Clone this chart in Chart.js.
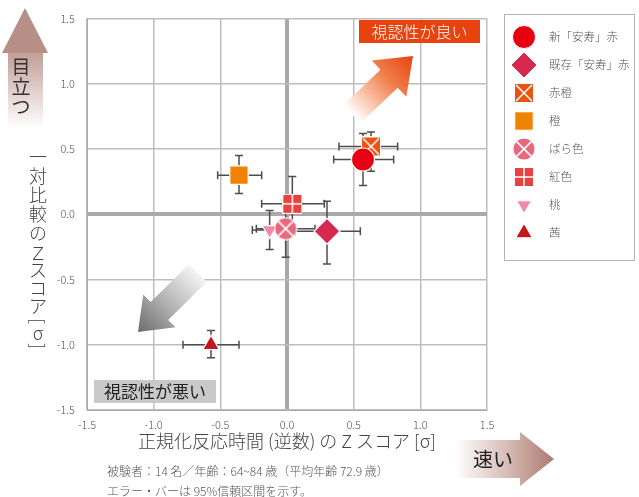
<!DOCTYPE html>
<html><head><meta charset="utf-8">
<script src="https://cdn.jsdelivr.net/npm/chart.js@4.4.0/dist/chart.umd.min.js"></script>
<style>html,body{margin:0;padding:0;background:#fff;}#wrap{width:639px;height:497px;position:relative;}</style>
</head><body><div id="wrap"><canvas id="c" width="639" height="497"></canvas></div>
<script>
const series = ['新「安寿」赤','既存「安寿」赤','赤橙','橙','ばら色','紅色','桃','茜'];
const xValues = [0.57, 0.30, 0.63, -0.36, -0.01, 0.04, -0.13, -0.57];
const yValues = [0.42, -0.13, 0.52, 0.30, -0.11, 0.08, -0.12, -1.00];
const xLow  = [0.35, 0.06, 0.39, -0.52, -0.23, -0.19, -0.26, -0.78];
const xHigh = [0.80, 0.55, 0.83, -0.19, 0.21, 0.28, 0.00, -0.36];
const yLow  = [0.22, -0.38, 0.33, 0.16, -0.33, -0.13, -0.27, -1.10];
const yHigh = [0.62, 0.10, 0.63, 0.45, 0.11, 0.29, 0.03, -0.89];
const axisTicks = [-1.5, -1.0, -0.5, 0.0, 0.5, 1.0, 1.5];
const colors = ['#e60012','#d7294f','#e95413','#f08300','#e9687e','#e8413f','#f08aa7','#c8161d'];

const FONT = '"Noto Sans CJK JP", "Noto Sans", sans-serif';
const LIGHT = '300 ';

function mk(size, draw){const c=document.createElement('canvas');c.width=size;c.height=size;draw(c.getContext('2d'),size);return c;}
const crossSquare = mk(20,(g,s)=>{g.fillStyle='#fff';g.fillRect(0,0,s,s);g.fillStyle=colors[2];g.fillRect(1,1,s-2,s-2);g.strokeStyle='#fff';g.lineWidth=1.5;g.beginPath();g.moveTo(2,2);g.lineTo(s-2,s-2);g.moveTo(s-2,2);g.lineTo(2,s-2);g.stroke();});
const crossCircle = mk(24,(g,s)=>{const c=s/2;g.fillStyle='#fff';g.beginPath();g.arc(c,c,11.5,0,Math.PI*2);g.fill();g.fillStyle=colors[4];g.beginPath();g.arc(c,c,10.5,0,Math.PI*2);g.fill();g.strokeStyle='#fff';g.lineWidth=1.6;const d=7.4;g.beginPath();g.moveTo(c-d,c-d);g.lineTo(c+d,c+d);g.moveTo(c+d,c-d);g.lineTo(c-d,c+d);g.stroke();});
const quadSquare = mk(20,(g,s)=>{g.fillStyle='#fff';g.fillRect(0,0,s,s);g.fillStyle=colors[5];g.fillRect(1,1,s-2,s-2);g.strokeStyle='#fff';g.lineWidth=1.5;g.beginPath();g.moveTo(s/2,1);g.lineTo(s/2,s-1);g.moveTo(1,s/2);g.lineTo(s-1,s/2);g.stroke();});

const styles = [
 {pointStyle:'circle', radius:11.5, rotation:0},
 {pointStyle:'rectRot', radius:13, rotation:0},
 {pointStyle:crossSquare, radius:10, rotation:0},
 {pointStyle:'rect', radius:13, rotation:0},
 {pointStyle:crossCircle, radius:12, rotation:0},
 {pointStyle:quadSquare, radius:10, rotation:0},
 {pointStyle:'triangle', radius:8.5, rotation:180},
 {pointStyle:'triangle', radius:9.5, rotation:0}
];

const datasets = series.map((name,i)=>({
  label:name,
  data:[{x:xValues[i], y:yValues[i]}],
  pointStyle:styles[i].pointStyle,
  pointRadius:styles[i].radius,
  pointRotation:styles[i].rotation,
  backgroundColor:colors[i],
  borderColor:'#ffffff',
  borderWidth:1.2
}));

function arrowPoly(ctx,x0,y0,x1,y1,sw,hw,hl){
  const dx=x1-x0, dy=y1-y0, L=Math.hypot(dx,dy), ux=dx/L, uy=dy/L, px=-uy, py=ux;
  const bx=x1-ux*hl, by=y1-uy*hl;
  ctx.beginPath();
  ctx.moveTo(x0+px*sw/2, y0+py*sw/2);
  ctx.lineTo(bx+px*sw/2, by+py*sw/2);
  ctx.lineTo(bx+px*hw/2, by+py*hw/2);
  ctx.lineTo(x1,y1);
  ctx.lineTo(bx-px*hw/2, by-py*hw/2);
  ctx.lineTo(bx-px*sw/2, by-py*sw/2);
  ctx.lineTo(x0-px*sw/2, y0-py*sw/2);
  ctx.closePath();
}

const deco = {
  id:'deco',
  beforeDatasetsDraw(chart){
    const ctx=chart.ctx; ctx.save();
    let g=ctx.createLinearGradient(352,114,413,56);
    g.addColorStop(0,'rgba(255,255,255,1)');g.addColorStop(0.2,'#fbd2bd');g.addColorStop(0.6,'#ef7e4a');g.addColorStop(1,'#e8420f');
    ctx.fillStyle=g; arrowPoly(ctx,352,114,413,56,25,50,33); ctx.fill();
    g=ctx.createLinearGradient(198,273,138,332);
    g.addColorStop(0,'#f4f4f4');g.addColorStop(0.5,'#b4b4b4');g.addColorStop(1,'#6c6c6c');
    ctx.fillStyle=g; arrowPoly(ctx,198,273,138,332,25,46,30); ctx.fill();
    ctx.fillStyle='#e8420f'; ctx.fillRect(359,20,121,23);
    ctx.fillStyle='#fff'; ctx.font=LIGHT+'16px '+FONT; ctx.textAlign='center'; ctx.textBaseline='middle';
    ctx.fillText('視認性が良い',419.5,32);
    ctx.fillStyle='#c9c9c9'; ctx.fillRect(94,380,122,23);
    ctx.fillStyle='#222'; ctx.font='17px '+FONT; ctx.fillText('視認性が悪い',155,392);
    const xs=chart.scales.x, ys=chart.scales.y;
    ctx.strokeStyle='#4d4d4d'; ctx.lineWidth=1.5;
    for(let i=0;i<series.length;i++){
      const px=xs.getPixelForValue(xValues[i]), py=ys.getPixelForValue(yValues[i]);
      const xl=xs.getPixelForValue(xLow[i]), xh=xs.getPixelForValue(xHigh[i]);
      const yl=ys.getPixelForValue(yLow[i]), yh=ys.getPixelForValue(yHigh[i]);
      ctx.beginPath();
      ctx.moveTo(xl,py);ctx.lineTo(xh,py);
      ctx.moveTo(xl,py-4);ctx.lineTo(xl,py+4);
      ctx.moveTo(xh,py-4);ctx.lineTo(xh,py+4);
      ctx.moveTo(px,yl);ctx.lineTo(px,yh);
      ctx.moveTo(px-4,yl);ctx.lineTo(px+4,yl);
      ctx.moveTo(px-4,yh);ctx.lineTo(px+4,yh);
      ctx.stroke();
    }
    ctx.restore();
  },
  afterDraw(chart){
    const ctx=chart.ctx; ctx.save();
    let g=ctx.createLinearGradient(0,53,0,128);
    g.addColorStop(0,'#c29e96');g.addColorStop(1,'#ffffff');
    ctx.fillStyle=g; ctx.fillRect(8,52,35,76);
    ctx.fillStyle='#b88f86';
    ctx.beginPath();ctx.moveTo(25,8);ctx.lineTo(48,53);ctx.lineTo(2,53);ctx.closePath();ctx.fill();
    ctx.fillStyle='#333'; ctx.font='19px '+FONT; ctx.textAlign='center'; ctx.textBaseline='middle';
    ['目','立','つ'].forEach((ch,i)=>ctx.fillText(ch,21,67+i*20));
    g=ctx.createLinearGradient(455,0,553,0);
    g.addColorStop(0,'#ffffff');g.addColorStop(0.5,'#d9c0ba');g.addColorStop(1,'#ad7b70');
    ctx.fillStyle=g;
    ctx.beginPath();ctx.moveTo(455,440);ctx.lineTo(520,440);ctx.lineTo(520,432);ctx.lineTo(554,459);ctx.lineTo(520,486);ctx.lineTo(520,478);ctx.lineTo(455,478);ctx.closePath();ctx.fill();
    ctx.fillStyle='#222'; ctx.font='20px '+FONT;
    ctx.fillText('速い',493,459);
    ctx.fillStyle='#444'; ctx.font=LIGHT+'18px '+FONT; ctx.textAlign='center';
    ctx.fillText('正規化反応時間 (逆数) の Z スコア [σ]',287,441);
    ctx.font=LIGHT+'12px '+FONT; ctx.textAlign='left'; ctx.fillStyle='#555';
    ctx.fillText('被験者：14 名／年齢：64~84 歳（平均年齢 72.9 歳）',107,471);
    ctx.fillText('エラー・バーは 95%信頼区間を示す。',107,491);
    ctx.fillStyle='#444'; ctx.font=LIGHT+'18px '+FONT; ctx.textAlign='center';
    const chars=[['一',157],['対',176],['比',195],['較',214],['の',233],['Ｚ',253],['ス',270],['コ',288],['ア',306],['[',321,true],['σ',333],[']',346,true]];
    chars.forEach(([ch,y,rot])=>{
      if(rot){ctx.save();ctx.translate(38,y);ctx.rotate(Math.PI/2);ctx.fillText(ch,0,0);ctx.restore();}
      else ctx.fillText(ch,38,y);
    });
    ctx.strokeStyle='#b4b4b4'; ctx.lineWidth=1;
    ctx.strokeRect(504.5,14.5,130,246);
    ctx.font=LIGHT+'11.5px '+FONT; ctx.textAlign='left'; ctx.textBaseline='middle';
    chart.data.datasets.forEach((ds,i)=>{
      const y=37+28*i;
      ctx.fillStyle=ds.backgroundColor; ctx.strokeStyle='#fff'; ctx.lineWidth=1;
      Chart.helpers.drawPoint(ctx,{pointStyle:ds.pointStyle,radius:ds.pointRadius,rotation:ds.pointRotation,borderWidth:1},524,y);
      ctx.fillStyle='#555';
      ctx.fillText(ds.label,549,y);
    });
    ctx.restore();
  }
};

new Chart(document.getElementById('c'),{
  type:'scatter',
  data:{datasets},
  options:{
    responsive:false, animation:false, events:[],
    layout:{padding:{top:15,right:152,left:0,bottom:0}},
    plugins:{legend:{display:false},tooltip:{enabled:false},title:{display:false}},
    scales:{
      x:{min:-1.5,max:1.5,
        afterBuildTicks:s=>{s.ticks=axisTicks.map(v=>({value:v}));},
        afterFit:s=>{s.height=87;},
        grid:{drawTicks:false,color:c=>c.tick&&c.tick.value===0?'#a9a9a9':'#bdbdbd',lineWidth:c=>c.tick&&c.tick.value===0?4:1.5},
        border:{display:true,color:'#aaa',width:1},
        ticks:{padding:8,color:'#555',font:{family:FONT,size:11,weight:'300'},callback:v=>Number(v).toFixed(1)}},
      y:{min:-1.5,max:1.5,
        afterBuildTicks:s=>{s.ticks=axisTicks.map(v=>({value:v}));},
        afterFit:s=>{s.width=87;},
        grid:{drawTicks:false,color:c=>c.tick&&c.tick.value===0?'#a9a9a9':'#bdbdbd',lineWidth:c=>c.tick&&c.tick.value===0?4:1.5},
        border:{display:true,color:'#aaa',width:1},
        ticks:{padding:12,color:'#555',font:{family:FONT,size:11,weight:'300'},callback:v=>Number(v).toFixed(1)}}
    }
  },
  plugins:[deco]
});
</script></body></html>
